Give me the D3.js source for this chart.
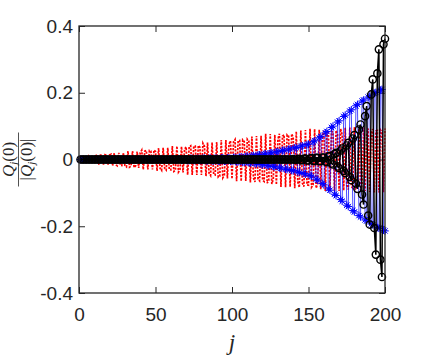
<!DOCTYPE html>
<html>
<head>
<meta charset="utf-8">
<script src="https://cdn.jsdelivr.net/npm/d3@7"></script>
<style>
  body { margin: 0; background: #fff; }
  svg { display: block; }
</style>
</head>
<body>
<div id="chart"></div>
<script>
// Q_j(0) / |Q_j(0)|, j = 1..200, three modes
const red = [
  -.007, -.007, .008, -.007, -.006, .008, -.008, .006, .008, -.008,
  .012, .014, -.015, .013, .013, -.015, .014, .012, -.015, .014,
  .016, -.019, .019, -.016, -.019, .020, -.017, -.018, .020, -.018,
  -.022, .025, -.023, -.020, .025, -.024, -.019, .024, -.025, .020,
  .028, -.030, .025, .027, -.030, .027, .025, -.030, .028, .024,
  -.034, .034, -.027, -.033, .035, -.028, -.032, .035, -.030, -.031,
  .040, -.036, -.033, .040, -.038, -.031, .039, -.039, .031, .038,
  -.046, .038, .041, -.046, .040, .040, -.046, .042, .037, -.046,
  .049, .040, -.050, .051, -.041, -.048, .051, -.044, -.046, .052,
  -.053, -.050, .058, -.055, -.047, .058, -.057, .045, .056, -.058,
  .053, .060, -.065, .056, .057, -.065, .059, .054, -.064, .061,
  .055, -.069, .069, -.055, -.067, .070, -.059, -.064, .071, -.062,
  -.066, .077, -.071, -.062, .076, -.073, -.059, .074, -.075, .061,
  .077, -.082, .070, .074, -.083, .074, .070, -.082, .077, .066,
  -.086, .084, -.067, -.084, .087, -.071, -.081, .088, -.076, -.077,
  .092, -.083, -.076, .091, -.086, -.072, .089, -.089, .072, .086,
  -.094, .079, .086, -.095, .084, .082, -.095, .087, .077, -.094,
  .092, .074, -.093, .095, -.077, -.090, .096, -.081, -.086, .097,
  -.087, -.082, .097, -.091, -.077, .096, -.094, .074, .093, -.097,
  .080, .091, -.099, .085, .087, -.099, .089, .082, -.098, .093
];

const blue = [
  0, 0, 0, 0, 0, 0, 0, 0, 0, 0, 0, 0, 0, 0, 0, 0, 0, 0, 0, 0,
  0, 0, 0, 0, 0, 0, 0, 0, 0, 0, 0, 0, 0, 0, 0, 0, 0, 0, 0, 0,
  0, 0, 0, 0, 0, 0, 0, 0, 0, 0, 0, 0, 0, 0, 0, 0, 0, 0, 0, 0,
  .002, .002, -.002, -.002, .002, .002, -.002, -.002, .002, .002,
  -.003, -.003, .003, .003, -.003, -.003, .003, .003, -.003, -.003,
  .004, .004, -.004, -.004, .004, .004, -.004, -.004, .004, .004,
  -.005, -.005, .005, .005, -.005, -.005, .005, .005, -.005, -.005,
  .006, .006, -.007, -.007, .007, .008, -.008, -.009, .009, .010,
  -.010, -.011, .011, .012, -.012, -.013, .014, .014, -.015, -.016,
  .016, .017, -.018, -.019, .020, .020, -.021, -.022, .023, .024,
  -.025, -.026, .027, .028, -.029, -.030, .031, .032, -.033, -.034,
  .035, .036, -.037, -.039, .040, .041, -.042, -.044, .045, .046,
  -.048, -.050, .053, .056, -.059, -.062, .065, .069, -.072, -.076,
  .080, .084, -.088, -.092, .096, .100, -.104, -.108, .112, .116,
  -.120, -.125, .129, .133, -.137, -.141, .145, .149, -.153, -.157,
  .161, .165, -.168, -.172, .175, .178, -.181, -.184, .187, .190,
  -.193, -.196, .199, .201, -.204, -.206, .208, .210, -.212, -.214
];

const black = [
  0, 0, 0, 0, 0, 0, 0, 0, 0, 0, 0, 0, 0, 0, 0, 0, 0, 0, 0, 0,
  0, 0, 0, 0, 0, 0, 0, 0, 0, 0, 0, 0, 0, 0, 0, 0, 0, 0, 0, 0,
  0, 0, 0, 0, 0, 0, 0, 0, 0, 0, 0, 0, 0, 0, 0, 0, 0, 0, 0, 0,
  0, 0, 0, 0, 0, 0, 0, 0, 0, 0, 0, 0, 0, 0, 0, 0, 0, 0, 0, 0,
  0, 0, 0, 0, 0, 0, 0, 0, 0, 0, 0, 0, 0, 0, 0, 0, 0, 0, 0, 0,
  0, 0, 0, 0, 0, 0, 0, 0, 0, 0, 0, 0, 0, 0, 0, 0, 0, 0, 0, 0,
  0, 0, 0, 0, 0, 0, 0, 0, 0, 0, 0, 0, 0, 0, 0, 0, 0, 0, 0,
  .001, -.001, -.001, .001, .002, -.002, -.002, .002, .003, -.003,
  -.003, .003, .004, -.004, -.004, .005, .005, -.005, -.005, .006,
  .006, -.006, -.008, .009, .011, -.012, -.015, .016, .020, -.021,
  -.026, .027, .033, -.034, -.041, .042, .050, -.052, -.062, .063,
  .073, -.072, -.088, .090, .105, -.105, -.135, .130, .160, -.168,
  -.195, .195, .240, -.205, -.285, .258, .330, -.300, -.352, .345,
  .362
];

const xTicks = [0, 50, 100, 150, 200];
const yTicks = [-0.4, -0.2, 0, 0.2, 0.4];
const yTickLabels = ["-0.4", "-0.2", "0", "0.2", "0.4"];
const j = d3.range(1, red.length + 1);

const axisColor = "#262626";
const tickFont = "'Liberation Sans', Arial, Helvetica, sans-serif";
const mathFont = "'Liberation Serif', 'Times New Roman', serif";

// Set the dimensions and margins of the graph
const margin = {top: 26, right: 40, bottom: 67, left: 79},
    width = 425 - margin.left - margin.right,
    height = 360 - margin.top - margin.bottom;

const svg = d3.select("#chart")
    .append("svg")
    .attr("width", width + margin.left + margin.right)
    .attr("height", height + margin.top + margin.bottom);

const g = svg.append("g")
    .attr("transform", "translate(" + margin.left + "," + margin.top + ")");

const x = d3.scaleLinear().domain([0, 200]).range([0, width]);
const y = d3.scaleLinear().domain([-0.4, 0.4]).range([height, 0]);

// Axes: ticks point inward, labels only on bottom and left
const styleAxis = sel => {
    sel.select(".domain").remove();
    sel.selectAll(".tick line").attr("stroke", axisColor).attr("stroke-width", 1);
    sel.selectAll(".tick text")
        .attr("font-family", tickFont)
        .attr("font-size", 19)
        .attr("fill", axisColor);
};

g.append("g")
    .attr("transform", "translate(0," + height + ")")
    .call(d3.axisBottom(x).tickValues(xTicks).tickSizeInner(-6).tickSizeOuter(0).tickPadding(15))
    .call(styleAxis);

g.append("g")
    .call(d3.axisTop(x).tickValues(xTicks).tickSizeInner(-6).tickSizeOuter(0).tickFormat(""))
    .call(styleAxis);

g.append("g")
    .call(d3.axisLeft(y).tickValues(yTicks).tickSizeInner(-6).tickSizeOuter(0).tickPadding(6)
        .tickFormat((d, i) => yTickLabels[i]))
    .call(styleAxis);

g.append("g")
    .attr("transform", "translate(" + width + ",0)")
    .call(d3.axisRight(y).tickValues(yTicks).tickSizeInner(-6).tickSizeOuter(0).tickFormat(""))
    .call(styleAxis);

const line = values => d3.line()
    .x((d, i) => x(j[i]))
    .y(d => y(d))(values);

// red dotted mode
g.append("path")
    .attr("d", line(red))
    .attr("fill", "none")
    .attr("stroke", "#ff0000")
    .attr("stroke-width", 1.7)
    .attr("stroke-dasharray", "2.2,1.3");

// blue mode with asterisks
g.append("path")
    .attr("d", line(blue))
    .attr("fill", "none")
    .attr("stroke", "#0000ff")
    .attr("stroke-width", 0.7);

const star = "M0,-3.8V3.8M-3.8,0H3.8M-2.7,-2.7L2.7,2.7M-2.7,2.7L2.7,-2.7";
g.append("g")
    .selectAll("path")
    .data(blue)
    .enter()
    .append("path")
    .attr("d", star)
    .attr("transform", (d, i) => "translate(" + x(j[i]) + "," + y(d) + ")")
    .attr("fill", "none")
    .attr("stroke", "#0000ff")
    .attr("stroke-width", 1);

// black mode with circles
g.append("path")
    .attr("d", line(black))
    .attr("fill", "none")
    .attr("stroke", "#000000")
    .attr("stroke-width", 1.5);

g.append("g")
    .selectAll("circle")
    .data(black)
    .enter()
    .append("circle")
    .attr("cx", (d, i) => x(j[i]))
    .attr("cy", d => y(d))
    .attr("r", 3.6)
    .attr("fill", "none")
    .attr("stroke", "#000000")
    .attr("stroke-width", 1.4);

// axes box
g.append("rect")
    .attr("width", width)
    .attr("height", height)
    .attr("fill", "none")
    .attr("stroke", axisColor)
    .attr("stroke-width", 1.3);

// x label
svg.append("text")
    .attr("x", margin.left + width / 2)
    .attr("y", 350)
    .attr("text-anchor", "middle")
    .attr("font-family", mathFont)
    .attr("font-style", "italic")
    .attr("font-size", 23)
    .attr("fill", axisColor)
    .text("j");

// y label: fraction Q_j(0) / |Q_j(0)|
const yl = svg.append("g")
    .attr("transform", "translate(18.5," + (margin.top + height / 2) + ") rotate(-90)")
    .attr("font-family", mathFont)
    .attr("font-size", 17)
    .attr("fill", axisColor);

const num = yl.append("text").attr("x", 0).attr("y", -5).attr("text-anchor", "middle");
num.append("tspan").attr("font-style", "italic").text("Q");
num.append("tspan").attr("font-style", "italic").attr("font-size", 11).attr("dy", 3).text("j");
num.append("tspan").attr("dy", -3).text("(0)");

yl.append("line")
    .attr("x1", -27).attr("x2", 27)
    .attr("stroke", axisColor)
    .attr("stroke-width", 0.8);

const den = yl.append("text").attr("x", 0).attr("y", 13.5).attr("text-anchor", "middle");
den.append("tspan").text("|");
den.append("tspan").attr("font-style", "italic").text("Q");
den.append("tspan").attr("font-style", "italic").attr("font-size", 11).attr("dy", 3).text("j");
den.append("tspan").attr("dy", -3).text("(0)|");
</script>
</body>
</html>
